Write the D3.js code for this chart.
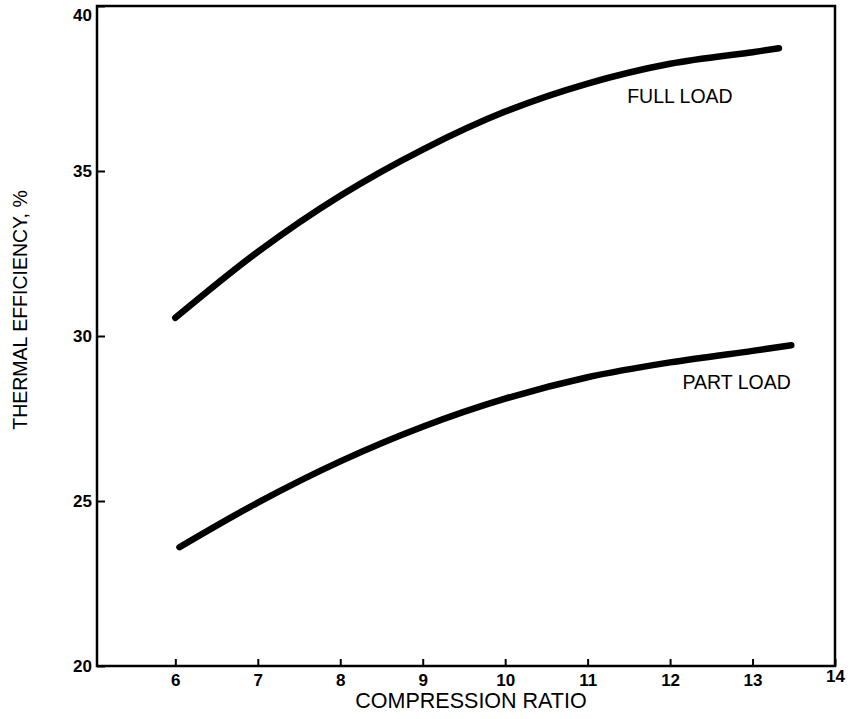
<!DOCTYPE html>
<html>
<head>
<meta charset="utf-8">
<script src="https://cdn.jsdelivr.net/npm/d3@7"></script>
<style>
  body { margin: 0; background: #fff; }
  text { font-family: "Liberation Sans", Arial, sans-serif; fill: #000; }
  .tick text { font-weight: bold; font-size: 17px; }
  .axisTitle { font-size: 21.5px; }
  .yTitle { font-size: 19.5px; }
  .curveLabel { font-size: 19.5px; }
</style>
</head>
<body>
<div id="chart"></div>
<script>
// Chart data
var xTicks = [6, 7, 8, 9, 10, 11, 12, 13, 14];
var yTicks = [20, 25, 30, 35, 40];

var fullLoadRatio = [6.0, 7, 8, 9, 10, 11, 12, 13, 13.32];
var fullLoadEff = [30.55, 32.55, 34.25, 35.65, 36.8, 37.65, 38.25, 38.6, 38.72];

var partLoadRatio = [6.05, 7, 8, 9, 10, 11, 12, 13, 13.47];
var partLoadEff = [23.6, 24.95, 26.2, 27.25, 28.1, 28.75, 29.2, 29.55, 29.72];

var svgWidth = 851;
var svgHeight = 719;

var margin = { top: 6, right: 16, bottom: 53, left: 97 };
var width = svgWidth - margin.left - margin.right;
var height = svgHeight - margin.top - margin.bottom;

var svg = d3.select("#chart")
  .append("svg")
  .attr("width", svgWidth)
  .attr("height", svgHeight);

var chartGroup = svg.append("g")
  .attr("transform", `translate(${margin.left}, ${margin.top})`);

// Scales
var xScale = d3.scaleLinear()
  .domain([5.05, 14])
  .range([0, width]);

var yScale = d3.scaleLinear()
  .domain([20, 40])
  .range([height, 0]);

// Axes, ticks point into the plot
var bottomAxis = d3.axisBottom(xScale)
  .tickValues(xTicks)
  .tickSizeInner(-7)
  .tickSizeOuter(0)
  .tickPadding(8);

var leftAxis = d3.axisLeft(yScale)
  .tickValues(yTicks)
  .tickSizeInner(-8)
  .tickSizeOuter(0)
  .tickPadding(5);

var xAxisG = chartGroup.append("g")
  .attr("transform", `translate(0, ${height})`)
  .call(bottomAxis);

var yAxisG = chartGroup.append("g")
  .call(leftAxis);

xAxisG.select(".domain").remove();
yAxisG.select(".domain").remove();
chartGroup.selectAll(".tick line").attr("stroke", "#000").attr("stroke-width", 2);
chartGroup.selectAll(".tick text").attr("fill", "#000");

// top label sits a little lower, last x label a little higher
yAxisG.selectAll(".tick text").filter(d => d === 40).attr("dy", "0.85em");
xAxisG.selectAll(".tick text").filter(d => d === 14).attr("y", 4);

// Frame
chartGroup.append("rect")
  .attr("x", 0)
  .attr("y", 0)
  .attr("width", width)
  .attr("height", height)
  .attr("fill", "none")
  .attr("stroke", "#000")
  .attr("stroke-width", 2.5);

// Curves
var line = d3.line()
  .x(d => xScale(d[0]))
  .y(d => yScale(d[1]))
  .curve(d3.curveCatmullRom.alpha(0.5));

var fullLoad = fullLoadRatio.map((r, i) => [r, fullLoadEff[i]]);
var partLoad = partLoadRatio.map((r, i) => [r, partLoadEff[i]]);

chartGroup.selectAll(".loadCurve")
  .data([fullLoad, partLoad])
  .enter()
  .append("path")
  .attr("class", "loadCurve")
  .attr("d", line)
  .attr("fill", "none")
  .attr("stroke", "#000")
  .attr("stroke-width", 6.5)
  .attr("stroke-linecap", "round");

// Curve labels
chartGroup.append("text")
  .attr("class", "curveLabel")
  .attr("x", xScale(11.48))
  .attr("y", yScale(37.05))
  .text("FULL LOAD");

chartGroup.append("text")
  .attr("class", "curveLabel")
  .attr("x", xScale(12.15))
  .attr("y", yScale(28.39))
  .text("PART LOAD");

// Axis titles
chartGroup.append("text")
  .attr("class", "axisTitle")
  .attr("transform", `translate(${471 - margin.left}, ${height + 42})`)
  .attr("text-anchor", "middle")
  .text("COMPRESSION RATIO");

chartGroup.append("text")
  .attr("class", "yTitle")
  .attr("transform", "rotate(-90)")
  .attr("x", -(310 - margin.top))
  .attr("y", 0 - margin.left + 27)
  .attr("text-anchor", "middle")
  .text("THERMAL EFFICIENCY, %");
</script>
</body>
</html>
